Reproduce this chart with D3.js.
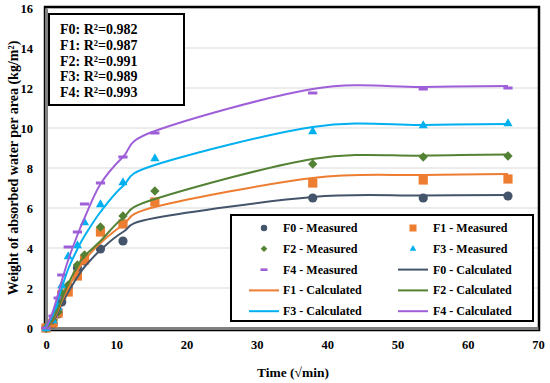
<!DOCTYPE html>
<html>
<head>
<meta charset="utf-8">
<script src="https://cdn.jsdelivr.net/npm/d3@7"></script>
<style>
  body { margin: 0; background: #fff; }
  svg text { font-family: "Liberation Serif", "Times New Roman", serif; font-weight: bold; fill: #000; }
</style>
</head>
<body>
<svg id="chart" width="550" height="383"></svg>
<script>
///////// data //////////
// time in sqrt(min)
const times = [0, 1, 1.73, 2.24, 3.16, 4.47, 5.48, 7.75, 10.95, 15.49, 37.95, 53.67, 65.73];

const series_names = ["F0", "F1", "F2", "F3", "F4"];
const series_colors = ["#44546a", "#ed7d31", "#548235", "#00b0f0", "#9e5fd8"];
const r2_values = ["0.982", "0.987", "0.991", "0.989", "0.993"];

// measured (null = not visible)
const measured_F0 = [0, 0.2, 0.7, 1.3, 2.0, 3.0, 3.35, 3.95, 4.35, null, 6.5, 6.5, 6.6];
const measured_F1 = [0, 0.25, 0.75, 1.65, 1.8, 2.6, 3.4, 4.8, 5.2, 6.3, 7.25, 7.4, 7.45];
const measured_F2 = [0, 0.4, 0.8, 1.75, 2.15, 3.15, 3.65, 5.05, 5.6, 6.85, 8.2, 8.55, 8.6];
const measured_F3 = [0, 0.4, 1.05, 2.15, 3.6, 4.15, 5.3, 6.2, 7.3, 8.5, 9.85, 10.15, 10.25];
const measured_F4 = [0, 0.6, 1.5, 2.65, 4.05, 4.8, 6.2, 7.25, 8.55, 9.75, 11.75, 11.95, 12.0];

// calculated
const calc_F0 = [0, 0.35, 0.8, 1.2, 1.8, 2.55, 3.05, 3.9, 4.8, 5.5, 6.55, 6.62, 6.65];
const calc_F1 = [0, 0.4, 0.9, 1.35, 2.0, 2.85, 3.4, 4.25, 5.15, 6.05, 7.5, 7.65, 7.7];
const calc_F2 = [0, 0.45, 1.0, 1.45, 2.2, 3.1, 3.6, 4.35, 5.5, 6.45, 8.45, 8.62, 8.68];
const calc_F3 = [0, 0.7, 1.45, 2.0, 2.95, 3.95, 4.6, 5.8, 7.1, 8.15, 10.05, 10.15, 10.2];
const calc_F4 = [0, 0.85, 1.7, 2.35, 3.4, 4.65, 5.5, 7.2, 8.55, 9.85, 11.95, 12.05, 12.1];

const measured_all = [measured_F0, measured_F1, measured_F2, measured_F3, measured_F4];
const calc_all = [calc_F0, calc_F1, calc_F2, calc_F3, calc_F4];

const x_ticks = [0, 10, 20, 30, 40, 50, 60, 70];
const y_ticks = [0, 2, 4, 6, 8, 10, 12, 14, 16];

///////// drawing //////////
const svg = d3.select("#chart");
const SERIF = "Liberation Serif, Times New Roman, serif";

const x = d3.scaleLinear().domain([0, 70]).range([46, 538]);
const y = d3.scaleLinear().domain([0, 16]).range([328, 8]);

// gridlines
svg.append("g")
  .selectAll("line")
  .data(y_ticks.filter(d => d > 0))
  .enter()
  .append("line")
  .attr("x1", x(0)).attr("x2", x(70))
  .attr("y1", d => y(d)).attr("y2", d => y(d))
  .attr("stroke", "#d9d9d9").attr("stroke-width", 1.2);

// plot frame
svg.append("rect")
  .attr("x", x(0) - 1).attr("y", y(16) - 1)
  .attr("width", x(70) - x(0) + 2).attr("height", y(0) - y(16) + 3)
  .attr("fill", "none").attr("stroke", "#000").attr("stroke-width", 2.5);

// axes
let xAxis = svg.append("g")
  .attr("transform", "translate(0," + y(0) + ")")
  .call(d3.axisBottom(x).tickValues(x_ticks).tickSize(0).tickPadding(12));
let yAxis = svg.append("g")
  .attr("transform", "translate(" + x(0) + ",0)")
  .call(d3.axisLeft(y).tickValues(y_ticks).tickSize(0).tickPadding(13));
for (let ax of [xAxis, yAxis]) {
  ax.attr("font-family", SERIF).attr("font-size", 12.5).attr("font-weight", "bold");
  ax.select(".domain").attr("stroke", "#808080").attr("stroke-width", 3);
  ax.selectAll("text").style("font-size", "12.5px").style("font-family", SERIF).style("font-weight", "bold");
}

// axis titles
svg.append("text")
  .attr("x", 293).attr("y", 377)
  .attr("text-anchor", "middle")
  .style("font-size", "13.5px")
  .text("Time (√min)");
svg.append("text")
  .attr("transform", "translate(18,168)rotate(-90)")
  .attr("text-anchor", "middle")
  .style("font-size", "14px")
  .text("Weight of absorbed water per area (kg/m²)");

// markers
function drawMarker(g, idx, cx, cy, color) {
  if (idx === 0) {
    g.append("circle").attr("cx", cx).attr("cy", cy).attr("r", 4.6).attr("fill", color);
  } else if (idx === 1) {
    g.append("rect").attr("x", cx - 4.6).attr("y", cy - 4.6).attr("width", 9.2).attr("height", 9.2).attr("fill", color);
  } else if (idx === 2) {
    g.append("path").attr("d", d3.symbol(d3.symbolDiamond2, 55)()).attr("transform", "translate(" + cx + "," + cy + ")").attr("fill", color);
  } else if (idx === 3) {
    g.append("path").attr("d", d3.symbol(d3.symbolTriangle2, 60)()).attr("transform", "translate(" + cx + "," + (cy + 0.5) + ")").attr("fill", color);
  } else {
    g.append("rect").attr("x", cx - 4.6).attr("y", cy - 1.5).attr("width", 9.2).attr("height", 3).attr("fill", color);
  }
}

let markers_g = svg.append("g");
measured_all.forEach((vals, i) => {
  vals.forEach((v, j) => {
    if (v === null) return;
    drawMarker(markers_g, i, x(times[j]), y(v), series_colors[i]);
  });
});

// calculated lines
let line = d3.line()
  .x(d => x(d[0]))
  .y(d => y(d[1]))
  .curve(d3.curveCardinal.tension(0));
calc_all.forEach((vals, i) => {
  svg.append("path")
    .datum(times.map((t, j) => [t, vals[j]]))
    .attr("d", line)
    .attr("fill", "none")
    .attr("stroke", series_colors[i])
    .attr("stroke-width", 2);
});

// R2 box
svg.append("rect")
  .attr("x", 49).attr("y", 14).attr("width", 135).attr("height", 91)
  .attr("fill", "#fff").attr("stroke", "#000").attr("stroke-width", 2);
series_names.forEach((name, i) => {
  svg.append("text")
    .attr("x", 60).attr("y", 34 + i * 15.8)
    .style("font-size", "14px")
    .text(name + ": R²=" + r2_values[i]);
});

// legend
let legend_g = svg.append("g");
legend_g.append("rect")
  .attr("x", 231).attr("y", 215).attr("width", 302).attr("height", 106)
  .attr("fill", "#fff").attr("stroke", "#000").attr("stroke-width", 2);
let legend_items = [];
series_names.forEach((name, i) => legend_items.push({type: "m", idx: i, label: name + " - Measured"}));
series_names.forEach((name, i) => legend_items.push({type: "c", idx: i, label: name + " - Calculated"}));
legend_items.forEach((item, k) => {
  let col = k % 2, row = Math.floor(k / 2);
  let ry = 228 + row * 20.8;
  let mx = col === 0 ? 264 : 413;
  let tx = col === 0 ? 283 : 433;
  let color = series_colors[item.idx];
  if (item.type === "m") {
    let s = legend_g.append("g");
    if (item.idx === 0) s.append("circle").attr("cx", mx).attr("cy", ry).attr("r", 3.2).attr("fill", color);
    else if (item.idx === 1) s.append("rect").attr("x", mx - 3.5).attr("y", ry - 3.5).attr("width", 7).attr("height", 7).attr("fill", color);
    else if (item.idx === 2) s.append("path").attr("d", d3.symbol(d3.symbolDiamond2, 28)()).attr("transform", "translate(" + mx + "," + ry + ")").attr("fill", color);
    else if (item.idx === 3) s.append("path").attr("d", d3.symbol(d3.symbolTriangle2, 32)()).attr("transform", "translate(" + mx + "," + ry + ")").attr("fill", color);
    else s.append("rect").attr("x", mx - 3.5).attr("y", ry - 1.2).attr("width", 7).attr("height", 2.6).attr("fill", color);
  } else {
    legend_g.append("line")
      .attr("x1", mx - 15).attr("x2", mx + 15)
      .attr("y1", ry).attr("y2", ry)
      .attr("stroke", color).attr("stroke-width", 2);
  }
  legend_g.append("text")
    .attr("x", tx).attr("y", ry + 4)
    .style("font-size", "12px")
    .text(item.label);
});
</script>
</body>
</html>
